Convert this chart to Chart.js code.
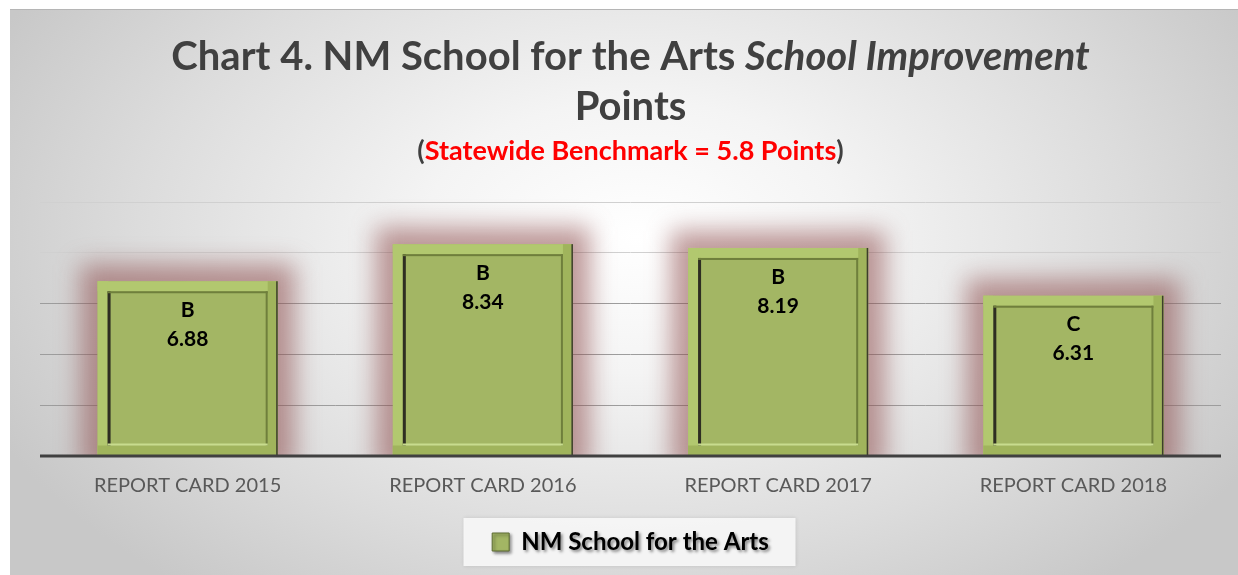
<!DOCTYPE html>
<html>
<head>
<meta charset="utf-8">
<script src="https://cdn.jsdelivr.net/npm/chart.js@4.4.1/dist/chart.umd.min.js"></script>
<style>
html, body { margin: 0; padding: 0; background: #fff; }
#wrap { position: relative; width: 1238px; height: 575px; overflow: hidden; }
#frame {
    position: absolute; left: 10px; top: 9px; width: 1228px; height: 566px;
    border-top: 1px solid #b5b5b5;
    background: radial-gradient(ellipse 58% 80% at 51% 40%, #ffffff 0%, #f4f4f4 30%, #dcdcdc 70%, #c8c8c8 100%);
}
canvas { position: absolute; left: 0; top: 0; }
</style>
</head>
<body>
<div id="wrap">
    <div id="frame"></div>
    <canvas id="grafico" width="1238" height="575"></canvas>
</div>
<script>
const categorias = ['REPORT CARD 2015', 'REPORT CARD 2016', 'REPORT CARD 2017', 'REPORT CARD 2018']
const puntos = [6.88, 8.34, 8.19, 6.31]
const notas = ['B', 'B', 'B', 'C']
const ejeY = { min: 0, max: 10, paso: 2 }
const serie = 'NM School for the Arts'

const titulo1 = [
    { t: 'Chart 4. NM School for the Arts ', font: 'bold 40px Lato', color: '#404040' },
    { t: 'School Improvement', font: 'italic bold 40px Lato', color: '#404040' }
]
const titulo2 = [{ t: 'Points', font: 'bold 40px Lato', color: '#404040' }]
const subtitulo = [
    { t: '(', font: 'bold 27px Lato', color: '#404040' },
    { t: 'Statewide Benchmark = 5.8 Points', font: 'bold 27px Lato', color: '#ff0000' },
    { t: ')', font: 'bold 27px Lato', color: '#404040' }
]

const verde = '#a3b664'
const FUENTE = 'Lato'

function escribir(ctx, partes, cx, y) {
    let total = 0
    partes.forEach(p => { ctx.font = p.font; p.w = ctx.measureText(p.t).width; total += p.w })
    let x = cx - total / 2
    partes.forEach(p => {
        ctx.font = p.font
        ctx.fillStyle = p.color
        ctx.fillText(p.t, x, y)
        x += p.w
    })
}

// titulos y caja de la leyenda
const fondo = {
    id: 'fondo',
    beforeDraw(chart) {
        const ctx = chart.ctx
        const cx = (chart.chartArea.left + chart.chartArea.right) / 2
        ctx.save()
        ctx.textAlign = 'left'
        ctx.textBaseline = 'alphabetic'
        escribir(ctx, titulo1, cx, 70)
        escribir(ctx, titulo2, cx, 120)
        escribir(ctx, subtitulo, cx, 160)

        const hit = chart.legend.legendHitBoxes[0]
        if (hit) {
            const cy = hit.top + hit.height / 2
            const hx = hit.left + hit.width / 2 - 1
            ctx.fillStyle = 'rgba(248,248,248,0.9)'
            ctx.shadowColor = 'rgba(0,0,0,0.12)'
            ctx.shadowBlur = 4
            ctx.fillRect(hx - 166, cy - 24, 332, 48)
        }
        ctx.restore()
    }
}

// brillo rojizo detras de las barras
const brillo = {
    id: 'brillo',
    beforeDatasetsDraw(chart) {
        const ctx = chart.ctx
        const a = chart.chartArea
        const meta = chart.getDatasetMeta(0)
        ctx.save()
        ctx.beginPath()
        ctx.rect(a.left, 0, a.right - a.left, a.bottom)
        ctx.clip()
        ctx.filter = 'blur(12px)'
        ctx.fillStyle = 'rgba(140,72,72,0.55)'
        meta.data.forEach(el => {
            const e = 17
            ctx.fillRect(el.x - el.width / 2 - e, el.y - e, el.width + 2 * e, el.base - el.y + 2 * e)
        })
        ctx.restore()
    },
    afterDatasetsDraw(chart) {
        const ctx = chart.ctx
        const meta = chart.getDatasetMeta(0)
        const base0 = chart.scales.y.getPixelForValue(0)

        meta.data.forEach((el, i) => {
            const l = el.x - el.width / 2, r = el.x + el.width / 2
            const t = el.y, b = el.base
            const m = 10
            ctx.save()
            // marco exterior claro
            ctx.fillStyle = '#b2c86f'
            ctx.fillRect(l, t, el.width, m)
            ctx.fillRect(l, t, m, b - t)
            ctx.fillStyle = '#a0b45c'
            ctx.fillRect(r - m, t, m, b - t)
            ctx.fillRect(l, b - m, el.width, m)
            // cara interior
            ctx.fillStyle = verde
            ctx.fillRect(l + m, t + m, el.width - 2 * m, b - t - 2 * m)
            // lineas del bisel
            ctx.fillStyle = '#2e2e22'
            ctx.fillRect(l + m, t + m, 3, b - t - 2 * m)
            ctx.fillStyle = '#6f7f3c'
            ctx.fillRect(l + m, t + m, el.width - 2 * m, 2)
            ctx.fillRect(r - m - 2, t + m, 2, b - t - 2 * m)
            ctx.fillStyle = '#c8dc8e'
            ctx.fillRect(l + m, b - m - 2, el.width - 2 * m, 2)
            ctx.fillStyle = '#3d3d2c'
            ctx.fillRect(r - 1.5, t, 1.5, b - t)

            // etiquetas
            ctx.fillStyle = '#000'
            ctx.font = 'bold 21px ' + FUENTE
            ctx.textAlign = 'center'
            ctx.textBaseline = 'middle'
            ctx.fillText(notas[i], el.x, t + 29)
            ctx.fillText(puntos[i].toFixed(2), el.x, t + 58)
            ctx.restore()
        })

        // linea base
        ctx.save()
        ctx.strokeStyle = '#404040'
        ctx.lineWidth = 3
        ctx.beginPath()
        ctx.moveTo(chart.chartArea.left, base0)
        ctx.lineTo(chart.chartArea.right, base0)
        ctx.stroke()
        ctx.restore()
    }
}

let grafico = document.getElementById('grafico')

let miGrafico = new Chart(grafico, {
    type: 'bar',
    data: {
        labels: categorias,
        datasets: [{
            label: serie,
            data: puntos,
            backgroundColor: verde,
            borderWidth: 0,
            categoryPercentage: 1,
            barPercentage: 0.61
        }]
    },
    options: {
        responsive: false,
        animation: false,
        devicePixelRatio: 1,
        layout: { padding: { left: 40, right: 17, top: 202, bottom: 11 } },
        scales: {
            x: {
                grid: { display: false },
                border: { display: false },
                ticks: { color: '#595959', font: { family: FUENTE, size: 20 }, padding: 10 },
                afterFit: (s) => { s.height = 69 }
            },
            y: {
                min: ejeY.min,
                max: ejeY.max,
                border: { display: false },
                ticks: { display: false, stepSize: ejeY.paso },
                grid: {
                    drawTicks: false,
                    color: (c) => c.tick.value === 0 ? 'rgba(0,0,0,0)' : (c.tick.value >= 8 ? '#d0d0d0' : '#9d9d9d'),
                    lineWidth: 1
                }
            }
        },
        plugins: {
            tooltip: { enabled: false },
            legend: {
                position: 'bottom',
                labels: {
                    padding: 5,
                    boxWidth: 17,
                    boxHeight: 18,
                    color: '#000',
                    font: { family: FUENTE, size: 24, weight: 'bold' },
                    generateLabels: () => [{
                        text: serie, fillStyle: verde, strokeStyle: '#5d6b32', lineWidth: 1, datasetIndex: 0
                    }]
                }
            }
        }
    },
    plugins: [fondo, brillo]
})

// sombra del texto de la leyenda
const dibujarLeyenda = miGrafico.legend.draw
miGrafico.legend.draw = function () {
    const ctx = this.ctx
    ctx.save()
    ctx.shadowColor = 'rgba(0,0,0,0.45)'
    ctx.shadowOffsetX = 2
    ctx.shadowOffsetY = 2
    ctx.shadowBlur = 3
    dibujarLeyenda.apply(this, arguments)
    ctx.restore()
}
miGrafico.update()
</script>
</body>
</html>
